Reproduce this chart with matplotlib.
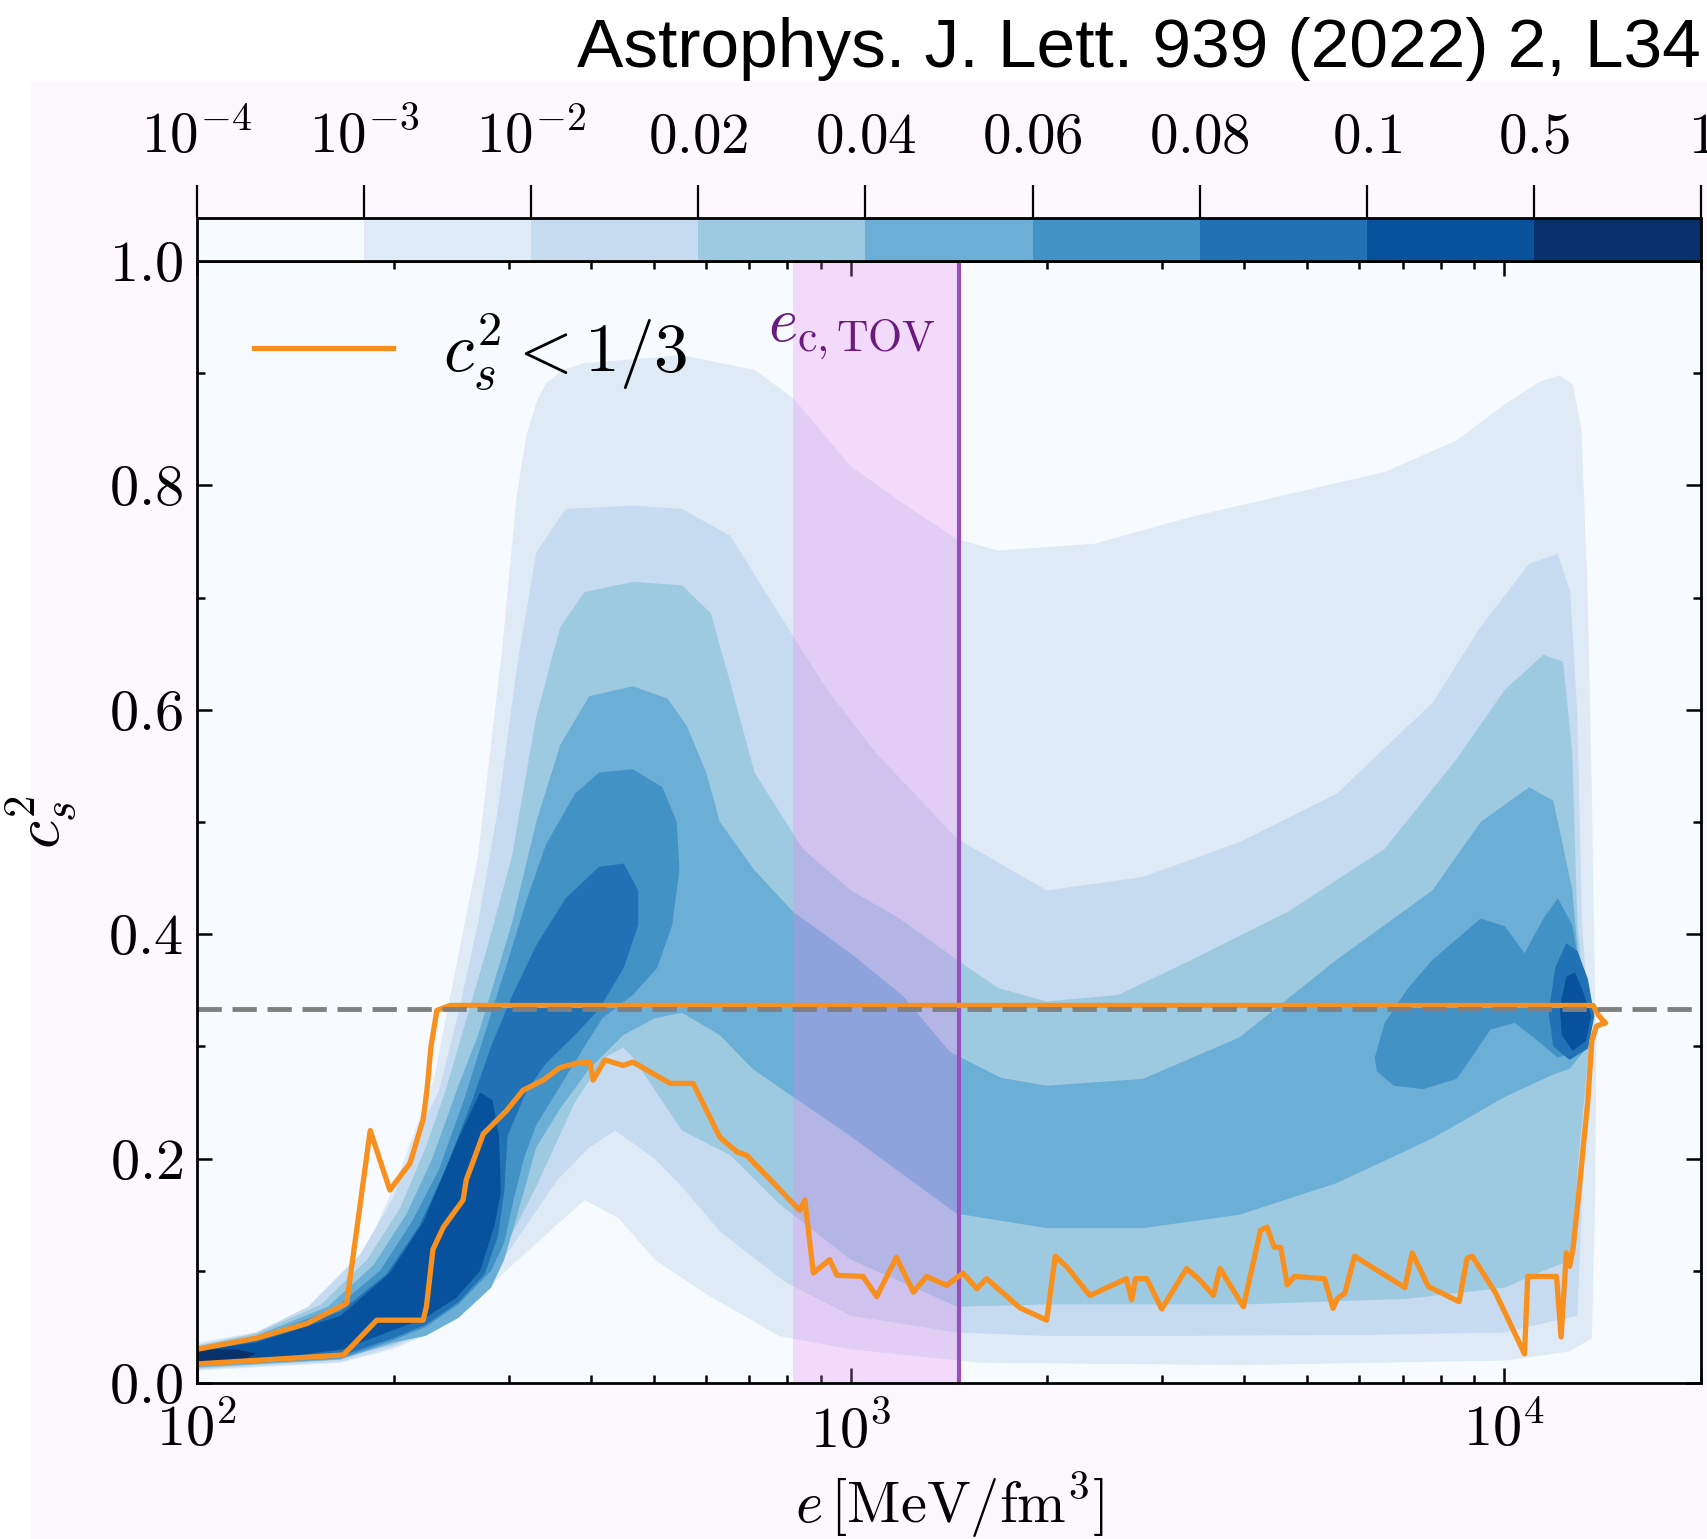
import numpy as np
import matplotlib
matplotlib.use('Agg')
import matplotlib.pyplot as plt
from matplotlib.colors import ListedColormap, BoundaryNorm
from matplotlib.cm import ScalarMappable
from matplotlib.patches import Rectangle

plt.rcParams['mathtext.fontset'] = 'cm'
plt.rcParams['font.family'] = 'serif'
plt.rcParams['font.serif'] = ['cmr10', 'DejaVu Serif']
plt.rcParams['axes.unicode_minus'] = False

# ---------------- colour levels (probability density) ----------------
level_bounds = [1e-4, 1e-3, 1e-2, 0.02, 0.04, 0.06, 0.08, 0.1, 0.5, 1.0]
level_labels = [r'$10^{-4}$', r'$10^{-3}$', r'$10^{-2}$', r'$0.02$', r'$0.04$',
                r'$0.06$', r'$0.08$', r'$0.1$', r'$0.5$', r'$1$']
level_colors = ['#f7fbff', '#deebf7', '#c6dbef', '#9ecae1', '#6baed6',
                '#4292c6', '#2171b5', '#08519c', '#08306b']

# ---------------- density regions: outlines (log10 e, c_s^2) ----------------
# level 1 (1e-3 .. 1e-2)
lev1_loge = [2.0, 2.107, 2.207, 2.26, 2.305, 2.362, 2.391, 2.43, 2.467, 2.489, 2.504, 2.52, 2.534,
             2.56, 2.593, 2.742, 2.853, 2.912, 3.0, 3.075, 3.163, 3.226, 3.373, 3.521, 3.669, 3.817,
             3.927, 4.0, 4.053, 4.085, 4.105, 4.118, 4.127, 4.134, 4.139, 4.141, 4.139, 4.134,
             4.10, 4.0, 3.6, 3.2, 3.0, 2.89, 2.78, 2.70, 2.645, 2.593, 2.525, 2.482, 2.448,
             2.415, 2.356, 2.30, 2.22, 2.0]
lev1_cs2 = [0.036, 0.047, 0.077, 0.121, 0.18, 0.27, 0.355, 0.47, 0.655, 0.79, 0.845, 0.875, 0.891,
            0.903, 0.909, 0.916, 0.903, 0.878, 0.817, 0.786, 0.752, 0.742, 0.748, 0.772, 0.792, 0.812,
            0.84, 0.872, 0.892, 0.898, 0.89, 0.85, 0.717, 0.53, 0.345, 0.30, 0.16, 0.04,
            0.028, 0.02, 0.016, 0.018, 0.03, 0.042, 0.079, 0.11, 0.147, 0.163, 0.1275, 0.105, 0.086,
            0.07, 0.044, 0.030, 0.018, 0.011]

# level 2 (1e-2 .. 0.02)
lev2_loge = [2.0, 2.09, 2.17, 2.25, 2.30, 2.34, 2.37, 2.40, 2.43, 2.46, 2.49, 2.519, 2.564,
             2.667, 2.742, 2.816, 2.89, 2.964, 3.038, 3.163, 3.30, 3.447, 3.595, 3.743, 3.89,
             3.964, 4.038, 4.082, 4.101, 4.112, 4.119, 4.133, 4.119, 4.112,
             4.0, 3.8, 3.5, 3.3, 3.163, 3.0, 2.9, 2.8, 2.742, 2.70, 2.64, 2.60, 2.55, 2.48,
             2.42, 2.36, 2.30, 2.22, 2.0]
lev2_cs2 = [0.034, 0.045, 0.068, 0.115, 0.165, 0.225, 0.26, 0.33, 0.41, 0.51, 0.64, 0.74, 0.779,
            0.782, 0.779, 0.755, 0.686, 0.618, 0.562, 0.485, 0.439, 0.451, 0.482, 0.525, 0.606,
            0.674, 0.73, 0.739, 0.705, 0.594, 0.408, 0.30, 0.16, 0.06,
            0.045, 0.043, 0.042, 0.042, 0.045, 0.06, 0.09, 0.135, 0.175, 0.20, 0.225, 0.21, 0.18, 0.12,
            0.076, 0.046, 0.032, 0.019, 0.012]

# level 3 (0.02 .. 0.04)
lev3_loge = [2.0, 2.09, 2.19, 2.26, 2.31, 2.35, 2.38, 2.41, 2.445, 2.482, 2.519, 2.556, 2.593,
             2.667, 2.742, 2.786, 2.816, 2.853, 2.927, 3.0, 3.075, 3.163, 3.226, 3.30, 3.41,
             3.521, 3.669, 3.817, 3.927, 4.001, 4.06, 4.09, 4.104, 4.112, 4.130, 4.112, 4.104,
             4.06, 4.001, 3.85, 3.6, 3.3, 3.163, 3.0, 2.89, 2.816, 2.742, 2.667, 2.652, 2.623,
             2.578, 2.519, 2.475, 2.43, 2.371, 2.30, 2.20, 2.0]
lev3_cs2 = [0.033, 0.044, 0.070, 0.11, 0.155, 0.21, 0.26, 0.32, 0.39, 0.47, 0.594, 0.674, 0.705,
            0.714, 0.711, 0.686, 0.624, 0.544, 0.476, 0.439, 0.414, 0.377, 0.352, 0.34, 0.346,
            0.377, 0.42, 0.476, 0.556, 0.618, 0.649, 0.643, 0.562, 0.408, 0.30, 0.19, 0.11,
            0.10, 0.085, 0.075, 0.07, 0.07, 0.068, 0.11, 0.16, 0.203, 0.225, 0.29, 0.299, 0.29,
            0.25, 0.175, 0.125, 0.085, 0.054, 0.034, 0.020, 0.013]

# level 4 (0.04 .. 0.06)
lev4_loge = [2.0, 2.09, 2.20, 2.27, 2.32, 2.36, 2.40, 2.43, 2.482, 2.519, 2.556, 2.60, 2.667,
             2.72, 2.75, 2.779, 2.80, 2.853, 2.912, 3.0, 3.08, 3.152, 3.23, 3.30, 3.447, 3.595,
             3.743, 3.89, 3.964, 4.038, 4.075, 4.104, 4.116, 4.128,
             4.10, 4.075, 4.001, 3.89, 3.743, 3.595, 3.447, 3.30, 3.162, 3.0, 2.912, 2.85, 2.80,
             2.742, 2.70, 2.652, 2.60, 2.556, 2.519, 2.49, 2.47, 2.45, 2.40, 2.35, 2.30, 2.22, 2.0]
lev4_cs2 = [0.032, 0.042, 0.068, 0.105, 0.15, 0.20, 0.265, 0.31, 0.41, 0.50, 0.569, 0.612, 0.621,
            0.61, 0.585, 0.544, 0.50, 0.457, 0.42, 0.383, 0.345, 0.295, 0.272, 0.265, 0.271, 0.308,
            0.377, 0.439, 0.50, 0.531, 0.519, 0.44, 0.36, 0.30,
            0.28, 0.275, 0.255, 0.218, 0.178, 0.15, 0.138, 0.138, 0.151, 0.22, 0.255, 0.28, 0.31,
            0.33, 0.325, 0.31, 0.28, 0.245, 0.21, 0.15, 0.11, 0.085, 0.058, 0.042, 0.036, 0.021, 0.014]

# level 5 (0.06 .. 0.08): main lobe + high-density island
lev5a_loge = [2.0, 2.09, 2.21, 2.28, 2.33, 2.37, 2.41, 2.445, 2.475, 2.504, 2.534, 2.578, 2.615,
              2.667, 2.712, 2.734, 2.738, 2.727, 2.704, 2.667,
              2.62, 2.593, 2.556, 2.519, 2.50, 2.485, 2.47, 2.45, 2.40, 2.35, 2.30, 2.22, 2.0]
lev5a_cs2 = [0.031, 0.040, 0.066, 0.100, 0.145, 0.19, 0.255, 0.32, 0.375, 0.43, 0.48, 0.525, 0.544,
             0.547, 0.531, 0.50, 0.457, 0.408, 0.37, 0.346,
             0.325, 0.300, 0.265, 0.23, 0.20, 0.165, 0.125, 0.10, 0.07, 0.05, 0.038, 0.022, 0.015]
lev5b_loge = [3.802, 3.817, 3.853, 3.89, 3.964, 4.001, 4.031, 4.06, 4.082, 4.104, 4.119, 4.126,
              4.112, 4.082, 4.045, 4.016, 3.979, 3.95, 3.927, 3.876, 3.831, 3.805]
lev5b_cs2 = [0.29, 0.321, 0.352, 0.377, 0.414, 0.407, 0.383, 0.414, 0.432, 0.408, 0.358, 0.327,
             0.296, 0.29, 0.308, 0.321, 0.315, 0.29, 0.271, 0.262, 0.265, 0.278]

# level 6 (0.08 .. 0.1)
lev6a_loge = [2.0, 2.09, 2.22, 2.29, 2.34, 2.38, 2.42, 2.45, 2.482, 2.519, 2.564, 2.615, 2.653,
              2.675, 2.675, 2.653, 2.615,
              2.578, 2.534, 2.504, 2.475, 2.47, 2.46, 2.44, 2.40, 2.35, 2.30, 2.22, 2.0]
lev6a_cs2 = [0.030, 0.038, 0.064, 0.097, 0.14, 0.19, 0.25, 0.30, 0.345, 0.39, 0.432, 0.46, 0.463,
             0.439, 0.408, 0.37, 0.333,
             0.31, 0.285, 0.26, 0.22, 0.17, 0.13, 0.097, 0.072, 0.052, 0.040, 0.024, 0.016]
lev6b_loge = [4.068, 4.078, 4.095, 4.112, 4.128, 4.138, 4.128, 4.10, 4.075]
lev6b_cs2 = [0.33, 0.37, 0.392, 0.385, 0.36, 0.327, 0.298, 0.288, 0.30]

# level 7 (0.1 .. 0.5)
lev7a_loge = [2.0, 2.09, 2.22, 2.295, 2.346, 2.397, 2.433, 2.452, 2.462, 2.465,
              2.455, 2.433, 2.397, 2.346, 2.295, 2.223, 2.09, 2.0]
lev7a_cs2 = [0.029, 0.036, 0.060, 0.098, 0.143, 0.214, 0.259, 0.252, 0.22, 0.17,
             0.14, 0.10, 0.076, 0.057, 0.046, 0.030, 0.020, 0.017]
lev7b_loge = [4.085, 4.095, 4.108, 4.12, 4.133, 4.125, 4.105, 4.088]
lev7b_cs2 = [0.335, 0.362, 0.366, 0.35, 0.327, 0.305, 0.296, 0.31]

# level 8 (0.5 .. 1)
lev8_loge = [2.0, 2.06, 2.09, 2.07, 2.0]
lev8_cs2 = [0.030, 0.030, 0.026, 0.021, 0.019]

regions = [(lev1_loge, lev1_cs2, 1), (lev2_loge, lev2_cs2, 2), (lev3_loge, lev3_cs2, 3),
           (lev4_loge, lev4_cs2, 4), (lev5a_loge, lev5a_cs2, 5), (lev5b_loge, lev5b_cs2, 5),
           (lev6a_loge, lev6a_cs2, 6), (lev6b_loge, lev6b_cs2, 6), (lev7a_loge, lev7a_cs2, 7),
           (lev7b_loge, lev7b_cs2, 7), (lev8_loge, lev8_cs2, 8)]

# ---------------- c_s^2 < 1/3 envelope (orange) ----------------
upper_loge = [2.0, 2.091, 2.168, 2.229, 2.265, 2.295, 2.326, 2.346, 2.352, 2.358, 2.367, 2.387,
              3.0, 3.5, 4.0, 4.136, 4.144, 4.154]
upper_cs2 = [0.030, 0.040, 0.053, 0.071, 0.225, 0.172, 0.196, 0.235, 0.262, 0.30, 0.332, 0.3365,
             0.3365, 0.3365, 0.3365, 0.3365, 0.328, 0.321]

lower_loge = [2.0, 2.142, 2.224, 2.275, 2.346, 2.351, 2.361, 2.377, 2.407, 2.412, 2.438, 2.474,
              2.499, 2.53, 2.555, 2.581, 2.601, 2.606, 2.624, 2.652, 2.667, 2.724, 2.759, 2.80,
              2.826, 2.841, 2.922, 2.930, 2.943, 2.968, 2.979, 3.019, 3.040, 3.070, 3.096, 3.116,
              3.147, 3.172, 3.193, 3.208, 3.259, 3.30, 3.313, 3.330, 3.366, 3.422, 3.430, 3.436,
              3.453, 3.476, 3.514, 3.534, 3.555, 3.565, 3.601, 3.627, 3.637, 3.648, 3.658, 3.668,
              3.679, 3.725, 3.738, 3.745, 3.756, 3.771, 3.848, 3.859, 3.884, 3.931, 3.943, 3.951,
              3.987, 4.031, 4.036, 4.080, 4.087, 4.095, 4.100, 4.105, 4.113, 4.118, 4.128, 4.134,
              4.141, 4.154]
lower_cs2 = [0.017, 0.022, 0.025, 0.056, 0.056, 0.068, 0.119, 0.139, 0.163, 0.181, 0.222, 0.243,
             0.261, 0.270, 0.281, 0.285, 0.286, 0.270, 0.288, 0.283, 0.286, 0.267, 0.267, 0.219,
             0.206, 0.203, 0.154, 0.163, 0.098, 0.110, 0.096, 0.095, 0.077, 0.112, 0.081, 0.095,
             0.087, 0.098, 0.084, 0.093, 0.067, 0.056, 0.113, 0.104, 0.078, 0.093, 0.074, 0.093,
             0.093, 0.066, 0.102, 0.092, 0.078, 0.102, 0.068, 0.136, 0.139, 0.121, 0.121, 0.0875,
             0.095, 0.093, 0.0666, 0.0755, 0.080, 0.113, 0.085, 0.116, 0.086, 0.0725, 0.111, 0.113,
             0.080, 0.026, 0.095, 0.095, 0.041, 0.116, 0.104, 0.1185, 0.163, 0.193, 0.252, 0.305,
             0.318, 0.321]

conformal_limit = 1.0 / 3.0
e_c_tov = 1466.0
e_c_tov_band = (817.0, 1466.0)

# ---------------- figure ----------------
fig = plt.figure(figsize=(17.07, 15.39), dpi=100)
W, H = 1707.0, 1539.0
fig.patches.append(Rectangle((31 / W, 0), 1 - 31 / W, 1 - 82 / H, transform=fig.transFigure,
                             facecolor='#fdf8fd', edgecolor='none', zorder=-10))

ax_l, ax_r, ax_t, ax_b = 197, 1701, 261, 1383
ax = fig.add_axes([ax_l / W, 1 - ax_b / H, (ax_r - ax_l) / W, (ax_b - ax_t) / H])
cax = fig.add_axes([ax_l / W, 1 - ax_t / H, (ax_r - ax_l) / W, (ax_t - 218) / H])

ax.set_facecolor(level_colors[0])
for lx, ly, k in regions:
    ax.fill(10 ** np.asarray(lx), ly, color=level_colors[k], lw=0, zorder=1)

ax.axvspan(*e_c_tov_band, color='violet', alpha=0.27, lw=0, zorder=2)
ax.axvline(e_c_tov, color='#9650be', lw=3.0, zorder=3)

ax.plot(10 ** np.asarray(lower_loge), lower_cs2, color='#f7901e', lw=3.8, zorder=4,
        label=r'$c_s^2 < 1/3$')
ax.plot(10 ** np.asarray(upper_loge), upper_cs2, color='#f7901e', lw=3.8, zorder=4)
ax.axhline(conformal_limit, color='#808080', lw=3.5, ls=(0, (5.0, 2.2)), zorder=5)

ax.text(1350, 0.935, r'$e_{\rm c,TOV}$', color='#6a1b7f', fontsize=45, ha='right', va='center')

ax.set_xscale('log')
ax.set_xlim(100, 2e4)
ax.set_ylim(0, 1)
ax.set_xticks([1e2, 1e3, 1e4])
ax.set_xticklabels([r'$10^2$', r'$10^3$', r'$10^4$'])
ax.set_yticks([0.0, 0.2, 0.4, 0.6, 0.8, 1.0])
ax.set_yticklabels([r'$0.0$', r'$0.2$', r'$0.4$', r'$0.6$', r'$0.8$', r'$1.0$'])
ax.set_yticks([0.1, 0.3, 0.5, 0.7, 0.9], minor=True)
ax.tick_params(which='both', direction='in', top=True, right=True, width=1.8, labelsize=42)
ax.tick_params(which='major', length=11)
ax.tick_params(which='minor', length=6)
ax.tick_params(axis='y', pad=10)
ax.tick_params(axis='x', pad=14)
for s in ax.spines.values():
    s.set_linewidth(2.0)
    s.set_zorder(6)

ax.set_xlabel(r'$e\,[\mathrm{MeV}/\mathrm{fm}^3]$', fontsize=42)
ax.xaxis.set_label_coords(0.5, -0.0775)
ax.set_ylabel(r'$c_s^2$', fontsize=46)
ax.yaxis.set_label_coords(-0.078, 0.5)

ax.legend(loc='center left', bbox_to_anchor=((254 - 197) / 1504, (1383 - 352) / 1122),
          frameon=False, fontsize=50, handlelength=2.0, handletextpad=0.72,
          borderpad=0, borderaxespad=0)

cmap = ListedColormap(level_colors)
norm = BoundaryNorm(level_bounds, cmap.N)
cb = fig.colorbar(ScalarMappable(norm=norm, cmap=cmap), cax=cax, orientation='horizontal',
                  spacing='uniform', ticks=level_bounds)
cax.xaxis.set_ticks_position('top')
cb.set_ticks(level_bounds, labels=level_labels)
cb.minorticks_off()
cax.tick_params(direction='out', length=24, width=1.6, labelsize=41, pad=15)
cb.outline.set_linewidth(2.0)

fig.text(1701 / W, 1 - 67 / H, 'Astrophys. J. Lett. 939 (2022) 2, L34',
         fontfamily='Liberation Sans', fontsize=50, ha='right', va='baseline')

fig.savefig('out.png', dpi=100)
